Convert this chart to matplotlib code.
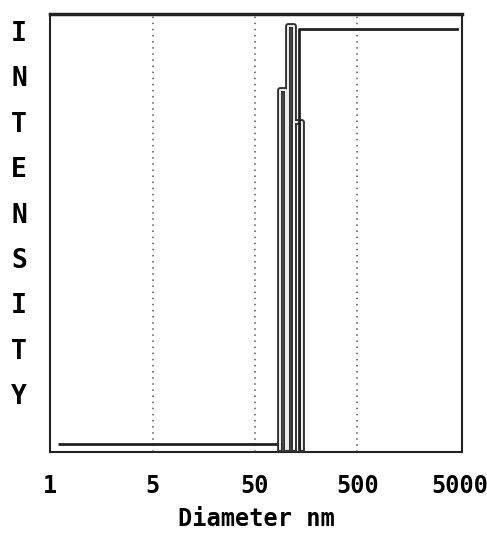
import matplotlib
matplotlib.use("Agg")
import matplotlib.pyplot as plt

# axis categories (evenly spaced on the printout)
tick_labels = ["1", "5", "50", "500", "5000"]
tick_pos = [0, 1, 2, 3, 4]

# baseline before the peak
base_x = [0.08, 2.235]
base_y = [0.018, 0.018]

# peak columns: left edge, right edge, height
bar_left = [2.245, 2.324, 2.382]
bar_right = [2.304, 2.382, 2.46]
bar_top = [0.826, 0.973, 0.753]
bar_floor = 0.007

# cumulative curve after the peak
cum_x = [2.43, 2.43, 3.97]
cum_y = [bar_floor, 0.966, 0.966]

ylabel_letters = list("INTENSITY")

fig = plt.figure(figsize=(4.87, 5.46), dpi=100)
ax = fig.add_axes([0.1027, 0.1722, 0.846, 0.802])

for g in [1, 2, 3]:
    ax.axvline(g, color="#555555", lw=1.1, ls=(0, (1, 3)), zorder=1)

ax.plot(base_x, base_y, color="#222222", lw=2, solid_capstyle="butt", zorder=3)

# hollow columns (double stroke like the thermal print)
for l, r, t in zip(bar_left, bar_right, bar_top):
    xs = [l, l, r, r]
    ys = [bar_floor, t, t, bar_floor]
    ax.plot(xs, ys, color="#333333", lw=4.2, zorder=3, solid_joinstyle="round")
    ax.plot(xs, ys, color="white", lw=1.3, zorder=4)
ax.plot([2.235, 2.245], [0.018, 0.018], color="#222222", lw=2, zorder=3)

ax.plot(cum_x, cum_y, color="#222222", lw=2, zorder=5)

ax.set_xlim(0, 4.02)
ax.set_ylim(0, 1)
ax.set_xticks(tick_pos)
ax.set_xticklabels(tick_labels, family="DejaVu Sans Mono", fontsize=17, weight="bold")
ax.set_yticks([])
ax.tick_params(axis="x", length=0, pad=16)
for s in ax.spines.values():
    s.set_linewidth(1.5)
    s.set_color("#222222")
ax.spines["top"].set_linewidth(2.5)

ax.set_xlabel("Diameter nm", family="DejaVu Sans Mono", fontsize=17, weight="bold", labelpad=6)

for i, ch in enumerate(ylabel_letters):
    fig.text(19 / 487, 1 - (34 + i * 45.4) / 546, ch, family="DejaVu Sans Mono",
             fontsize=19, weight="bold", ha="center", va="center")

fig.savefig("out.png", dpi=100)
